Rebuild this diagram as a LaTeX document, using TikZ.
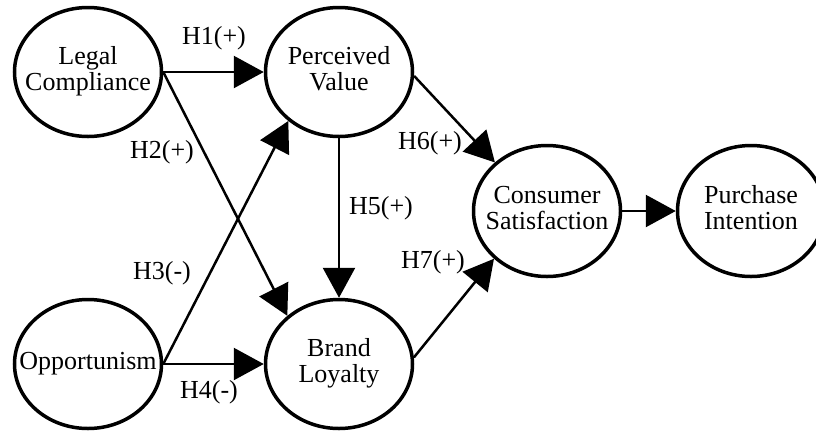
\documentclass[tikz,border=0pt]{standalone}
\usepackage{fontspec}
\setmainfont{Liberation Serif}
\usetikzlibrary{shapes.geometric,arrows.meta}
\newcommand{\ctext}[1]{\makebox[0pt][c]{\begin{tabular}{@{}c@{}}#1\end{tabular}}}
\tikzset{
  construct/.style={ellipse, draw, line width=3.5pt, minimum width=147pt, minimum height=129pt,
    inner sep=0pt, font=\fontsize{26}{26}\selectfont},
  link/.style={line width=2.5pt, -{Triangle[length=30pt,width=32pt]}},
  hyp/.style={font=\fontsize{26}{26}\selectfont, inner sep=0pt}
}
\begin{document}
\begin{tikzpicture}[x=1pt,y=-1pt]
\clip (0,0) rectangle (816,432);
\useasboundingbox (0,0) rectangle (816,432);
\node[construct] (LC) at (88,72) {\ctext{Legal\\Compliance}};
\node[construct] (PV) at (339,72) {\ctext{Perceived\\Value}};
\node[construct] (OP) at (88,364) {\ctext{Opportunism}};
\node[construct] (BL) at (339,364) {\ctext{Brand\\Loyalty}};
\node[construct, minimum height=131pt] (CS) at (547,211) {\ctext{Consumer\\Satisfaction}};
\node[construct, minimum height=131pt] (PI) at (751,211) {\ctext{Purchase\\Intention}};

\draw[link] (LC.east) -- (PV.west);
\draw[link] (LC.east) -- (BL.137);
\draw[link] (OP.east) -- (PV.-136);
\draw[link] (OP.east) -- (BL.west);
\draw[link] (PV.south) -- (BL.north);
\draw[link] (PV.-3) -- (CS.137);
\draw[link] (BL.5) -- (CS.-138);
\draw[link] (CS.east) -- (PI.west);

\node[hyp] (h1) at (214,38) {H1(+)};
\node[hyp] (h2) at (162,152) {H2(+)};
\node[hyp] (h3) at (162,273) {H3(-)};
\node[hyp] (h4) at (209,392) {H4(-)};
\node[hyp] (h5) at (381,208) {H5(+)};
\node[hyp] (h6) at (430,143) {H6(+)};
\node[hyp] (h7) at (433,262) {H7(+)};
\end{tikzpicture}
\end{document}
